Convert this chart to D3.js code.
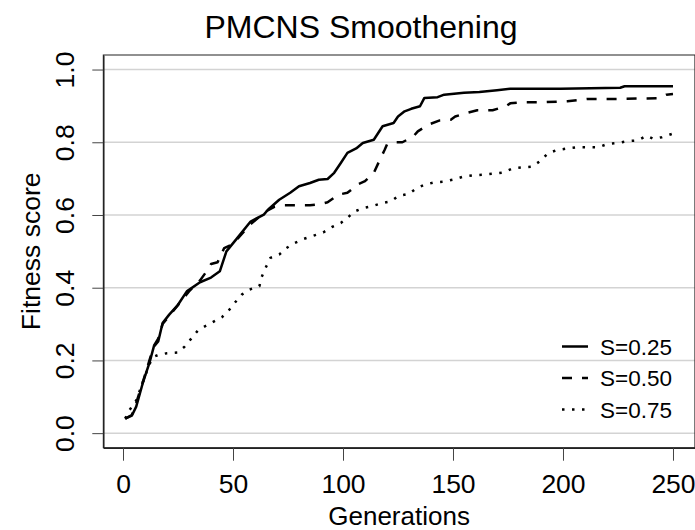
<!DOCTYPE html>
<html>
<head>
<meta charset="utf-8">
<script src="https://cdn.jsdelivr.net/npm/d3@7"></script>
<style>
    body { margin: 0; background: #fff; }
    svg text { font-family: "Liberation Sans", Arial, Helvetica, sans-serif; fill: #000; }
</style>
</head>
<body>
<div id="chart"></div>
<script>
// Data: [generation, fitness score].
let seriesNames = ["S=0.25", "S=0.50", "S=0.75"];

let s025 = [[1,0.040],[4,0.048],[6,0.073],[9,0.138],[12,0.193],[14,0.238],[16,0.252],[18,0.303],[21,0.326],[25,0.353],
    [29,0.390],[35,0.415],[40,0.428],[44,0.445],[47,0.500],[52,0.537],[58,0.582],[64,0.601],[66,0.615],[71,0.642],
    [76,0.661],[80,0.679],[85,0.688],[89,0.697],[93,0.699],[96,0.716],[99,0.743],[102,0.771],[106,0.783],[109,0.798],
    [114,0.807],[118,0.844],[123,0.853],[125,0.871],[128,0.885],[131,0.892],[135,0.899],[137,0.922],[143,0.924],[146,0.931],
    [155,0.936],[162,0.938],[170,0.943],[176,0.947],[199,0.947],[226,0.950],[228,0.954],[250,0.954]];

let s050 = [[1,0.040],[4,0.050],[6,0.083],[9,0.140],[12,0.200],[14,0.240],[16,0.260],[18,0.300],[22,0.330],[26,0.360],
    [30,0.390],[35,0.420],[38,0.445],[40,0.465],[43,0.470],[46,0.509],[50,0.520],[53,0.541],[58,0.575],[62,0.595],[65,0.610],
    [69,0.623],[73,0.627],[85,0.627],[90,0.630],[93,0.635],[98,0.656],[102,0.661],[107,0.685],[110,0.693],[114,0.716],
    [117,0.755],[119,0.780],[120,0.794],[124,0.800],[127,0.800],[132,0.816],[134,0.830],[139,0.849],[144,0.860],[149,0.862],
    [151,0.871],[156,0.880],[161,0.888],[168,0.888],[174,0.899],[176,0.907],[182,0.910],[191,0.910],[202,0.913],[211,0.919],
    [223,0.919],[243,0.921],[247,0.931],[250,0.933]];

let s075 = [[1,0.040],[3,0.064],[6,0.090],[9,0.140],[12,0.190],[14,0.210],[16,0.215],[20,0.220],[25,0.222],[28,0.238],
    [31,0.260],[34,0.282],[37,0.293],[41,0.306],[45,0.319],[48,0.337],[51,0.360],[54,0.381],[57,0.394],[62,0.404],
    [63,0.429],[65,0.457],[67,0.482],[71,0.491],[74,0.508],[78,0.523],[82,0.534],[87,0.544],[91,0.552],[95,0.567],
    [99,0.578],[102,0.592],[105,0.609],[109,0.619],[113,0.624],[118,0.633],[122,0.638],[125,0.652],[130,0.658],[133,0.672],
    [137,0.683],[141,0.689],[146,0.692],[150,0.697],[155,0.706],[159,0.709],[164,0.711],[169,0.714],[173,0.717],[177,0.728],
    [182,0.731],[186,0.733],[190,0.750],[193,0.769],[197,0.778],[202,0.783],[206,0.786],[216,0.786],[220,0.795],[225,0.798],
    [229,0.803],[234,0.805],[238,0.818],[241,0.810],[245,0.814],[250,0.824]];

let xTicks = [0, 50, 100, 150, 200, 250];
let yTicks = [0, 0.2, 0.4, 0.6, 0.8, 1.0];

let width = 695;
let height = 530;
let plotLeft = 103.3, plotRight = 694.9, plotTop = 55, plotBottom = 447.7;

let svg = d3.select("#chart")
    .append("svg")
    .attr("width", width)
    .attr("height", height);

// R style: 4% padding around the data range.
let x = d3.scaleLinear().domain([1 - 0.04 * 249, 250 + 0.04 * 249]).range([plotLeft, plotRight]);
let y = d3.scaleLinear().domain([-0.04, 1.04]).range([plotBottom, plotTop]);

// Grid lines.
svg.append("g")
    .selectAll("line")
    .data(yTicks)
    .enter()
    .append("line")
    .attr("x1", plotLeft)
    .attr("x2", plotRight)
    .attr("y1", d => y(d))
    .attr("y2", d => y(d))
    .attr("stroke", "#d3d3d3")
    .attr("stroke-width", 1.5);

// Series lines.
let styles = [
    { data: s025, dash: null },
    { data: s050, dash: "10 10" },
    { data: s075, dash: "2.5 7.5" }
];

let line = d3.line()
    .x(d => x(d[0]))
    .y(d => y(d[1]));

styles.forEach(function(s) {
    svg.append("path")
        .datum(s.data)
        .attr("d", line)
        .attr("fill", "none")
        .attr("stroke", "#000")
        .attr("stroke-width", 2.5)
        .attr("stroke-linejoin", "round")
        .attr("stroke-dasharray", s.dash);
});

// Plot box.
svg.append("rect")
    .attr("x", plotLeft)
    .attr("y", plotTop)
    .attr("width", plotRight - plotLeft)
    .attr("height", plotBottom - plotTop)
    .attr("fill", "none")
    .attr("stroke", "#222")
    .attr("stroke-width", 1);

// X axis.
let xAxis = svg.append("g")
    .attr("transform", "translate(0," + plotBottom + ")")
    .call(d3.axisBottom(x).tickValues(xTicks).tickSize(13).tickSizeOuter(0));
xAxis.select(".domain").attr("stroke", "#222").attr("stroke-width", 1.5);
xAxis.selectAll(".tick line").attr("stroke", "#444").attr("stroke-width", 1);
xAxis.selectAll(".tick text")
    .attr("y", 45.5)
    .attr("dy", null)
    .style("font-size", "26.5px");

// Y axis with rotated labels.
let yAxis = svg.append("g")
    .attr("transform", "translate(" + plotLeft + ",0)")
    .call(d3.axisLeft(y).tickValues(yTicks).tickSize(11).tickSizeOuter(0).tickFormat(d3.format(".1f")));
yAxis.select(".domain").attr("stroke", "#222").attr("stroke-width", 1.5);
yAxis.selectAll(".tick line").attr("stroke", "#444").attr("stroke-width", 1);
yAxis.selectAll(".tick text")
    .attr("x", null)
    .attr("dy", null)
    .attr("text-anchor", "middle")
    .attr("transform", "translate(" + (74 - plotLeft) + ",0) rotate(-90)")
    .style("font-size", "26.5px");

// Titles.
svg.append("text")
    .attr("x", 361)
    .attr("y", 38)
    .attr("text-anchor", "middle")
    .style("font-size", "32px")
    .text("PMCNS Smoothening");

svg.append("text")
    .attr("x", (plotLeft + plotRight) / 2)
    .attr("y", 525)
    .attr("text-anchor", "middle")
    .style("font-size", "26px")
    .text("Generations");

svg.append("text")
    .attr("transform", "translate(40," + ((plotTop + plotBottom) / 2) + ") rotate(-90)")
    .attr("text-anchor", "middle")
    .style("font-size", "26.5px")
    .text("Fitness score");

// Legend.
let legend = svg.append("g");
let legendRows = legend.selectAll("g")
    .data(styles)
    .enter()
    .append("g")
    .attr("transform", (d, i) => "translate(0," + (346.5 + i * 31.5) + ")");

legendRows.append("line")
    .attr("x1", 562)
    .attr("x2", 588)
    .attr("stroke", "#000")
    .attr("stroke-width", 2.5)
    .attr("stroke-dasharray", d => d.dash);

legendRows.append("text")
    .attr("x", 600)
    .attr("y", 8)
    .style("font-size", "22.5px")
    .text((d, i) => seriesNames[i]);
</script>
</body>
</html>
